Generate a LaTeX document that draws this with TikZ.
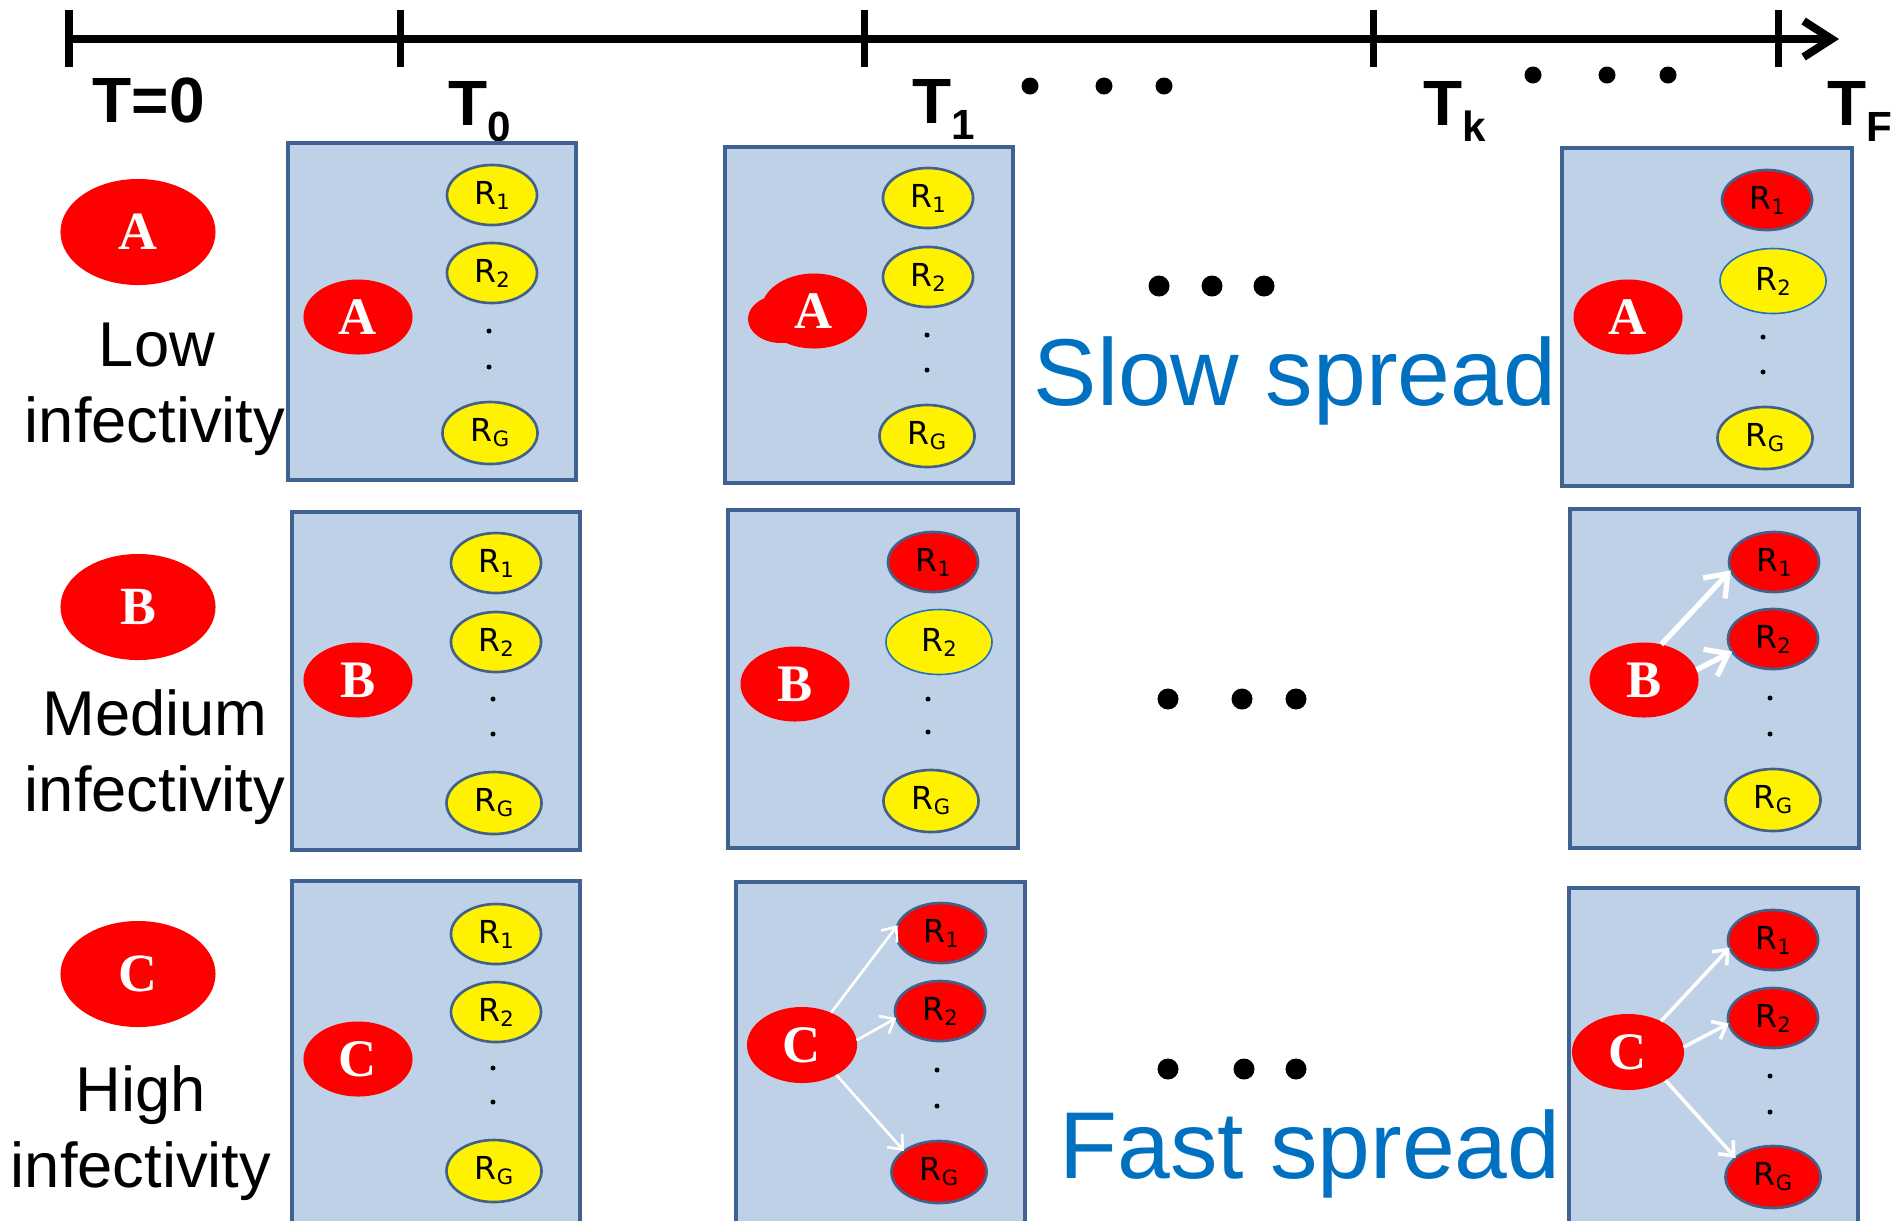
\documentclass[tikz,border=0pt]{standalone}
\usepackage{fontspec}
\setmainfont{Liberation Sans}
\newfontfamily\serfont{Liberation Serif}
\newfontfamily\djv{DejaVu Sans}
\usetikzlibrary{shapes.geometric,arrows.meta}
\definecolor{boxfill}{HTML}{BFD1E6}
\definecolor{boxline}{HTML}{3F6293}
\definecolor{rline}{HTML}{41618C}
\definecolor{specline}{HTML}{1F72C0}
\definecolor{spreadblue}{HTML}{0070C0}
\newcommand\Rlab[1]{R\raisebox{-0.05cm}{\fontsize{6}{7}\selectfont #1}}
\newcommand\Tlab[1]{T\raisebox{-0.16cm}{\fontsize{12}{14}\selectfont #1}}
\tikzset{
  panel/.style={draw=boxline, fill=boxfill, line width=0.9pt},
  agent/.style={ellipse, fill=red, text=white, inner sep=0pt, outer sep=0pt,
    minimum width=1.09cm, minimum height=0.75cm,
    font=\serfont\bfseries\fontsize{15}{18}\selectfont},
  bigagent/.style={agent, minimum width=1.55cm, minimum height=1.06cm,
    font=\serfont\bfseries\fontsize{15.3}{18}\selectfont},
  rnode/.style={ellipse, draw=rline, line width=0.75pt, inner sep=0pt, outer sep=0pt,
    minimum width=0.9cm, minimum height=0.6cm, font=\djv\fontsize{9}{10}\selectfont},
  ryel/.style={rnode, fill=yellow},
  rred/.style={rnode, fill=red},
  rgsize/.style={minimum width=0.95cm, minimum height=0.62cm},
  rspec/.style={rnode, fill=yellow, draw=specline, line width=0.45pt,
    minimum width=1.06cm, minimum height=0.65cm},
  tinydot/.style={circle, fill=black, inner sep=0pt, minimum size=0.05cm},
  bigdot/.style={circle, fill=black, inner sep=0pt, minimum size=0.21cm},
  tldot/.style={circle, fill=black, inner sep=0pt, minimum size=0.17cm},
  tlabel/.style={anchor=base west, inner sep=0pt, font=\bfseries\fontsize{18.2}{20}\selectfont},
  sidelabel/.style={anchor=base, inner sep=0pt, font=\fontsize{18}{20}\selectfont},
  spreadlabel/.style={anchor=base, inner sep=0pt, text=spreadblue, font=\fontsize{27}{30}\selectfont},
  warrow/.style={draw=white, line width=0.75pt, -{Straight Barb[length=0.12cm,width=0.2cm]}},
  wthick/.style={draw=white, line width=1.5pt, -{Straight Barb[length=0.2cm,width=0.3cm]}},
  tick/.style={line width=0.07cm}
}
\begin{document}
\begin{tikzpicture}[x=0.01cm,y=-0.01cm]
\useasboundingbox (0,0) rectangle (1895,1220);
\clip (0,0) rectangle (1895,1220);

% ---------- timeline ----------
\coordinate (tl0) at (69,39);
\coordinate (tlend) at (1839,39);
\draw[line width=0.08cm, -{Straight Barb[length=0.28cm,width=0.36cm]}] (tl0) -- (tlend);
\foreach \x/\n in {69/ta,400/tb,864/tc,1373/td,1778/te}{
  \coordinate (\n1) at (\x,10);
  \coordinate (\n2) at (\x,67);
  \draw[tick] (\n1) -- (\n2);
}
\node[tlabel] (lT0) at (92,122) {T=0};
\node[tlabel] (lTa) at (448,125) {\Tlab{0}};
\node[tlabel] (lTb) at (912,123) {\Tlab{1}};
\node[tlabel] (lTc) at (1423,125) {\Tlab{k}};
\node[tlabel] (lTd) at (1827,125) {\Tlab{F}};
\node[tldot] (tdA1) at (1030,86) {};
\node[tldot] (tdA2) at (1104,86) {};
\node[tldot] (tdA3) at (1164,86) {};
\node[tldot] (tdB1) at (1533,75) {};
\node[tldot] (tdB2) at (1607,75) {};
\node[tldot] (tdB3) at (1668,75) {};

% ---------- left column ----------
\node[bigagent] (la) at (138,232) {A};
\node[sidelabel] (lowa) at (157,366) {Low};
\node[sidelabel] (lowb) at (155,442) {infectivity};
\node[bigagent] (lb) at (138,607) {B};
\node[sidelabel] (meda) at (155,735) {Medium};
\node[sidelabel] (medb) at (155,811) {infectivity};
\node[bigagent] (lc) at (138,974) {C};
\node[sidelabel] (higa) at (141,1111) {High};
\node[sidelabel] (higb) at (141,1187) {infectivity};

% ---------- panels ----------
\draw[panel] (288,143) rectangle (576,480);
\draw[panel] (725,147) rectangle (1013,483);
\draw[panel] (1562,148) rectangle (1852,486);
\draw[panel] (292,512) rectangle (580,850);
\draw[panel] (728,510) rectangle (1018,848);
\draw[panel] (1570,509) rectangle (1859,848);
\draw[panel] (292,881) rectangle (580,1240);
\draw[panel] (736,882) rectangle (1025,1240);
\draw[panel] (1569,888) rectangle (1858,1240);

% ---------- row 1 ----------
\node[agent] (ag11) at (358,317) {A};
\node[ryel] (ra11) at (492,195) {\Rlab{1}};
\node[ryel] (rb11) at (492,273) {\Rlab{2}};
\node[tinydot] (d11a) at (489,331) {};
\node[tinydot] (d11b) at (489,367) {};
\node[ryel,rgsize] (rg11) at (490,433) {\Rlab{G}};

\fill[red] (781,319) ellipse [x radius=0.33cm, y radius=0.24cm];
\node[agent, minimum width=1.06cm] (ag12) at (814,311) {A};
\node[ryel] (ra12) at (928,198) {\Rlab{1}};
\node[ryel] (rb12) at (928,277) {\Rlab{2}};
\node[tinydot] (d12a) at (927,335) {};
\node[tinydot] (d12b) at (927,370) {};
\node[ryel,rgsize] (rg12) at (927,436) {\Rlab{G}};

\node[agent] (ag13) at (1628,317) {A};
\node[rred] (ra13) at (1767,200) {\Rlab{1}};
\node[rspec] (rb13) at (1773,281) {\Rlab{2}};
\node[tinydot] (d13a) at (1763,337) {};
\node[tinydot] (d13b) at (1763,372) {};
\node[ryel,rgsize] (rg13) at (1765,438) {\Rlab{G}};

\node[bigdot] (m1a) at (1159,286) {};
\node[bigdot] (m1b) at (1212,286) {};
\node[bigdot] (m1c) at (1264,286) {};
\node[spreadlabel] (slow) at (1295,405) {Slow spread};

% ---------- row 2 ----------
\node[agent] (ag21) at (358,680) {B};
\node[ryel] (ra21) at (496,563) {\Rlab{1}};
\node[ryel] (rb21) at (496,642) {\Rlab{2}};
\node[tinydot] (d21a) at (493,699) {};
\node[tinydot] (d21b) at (493,734) {};
\node[ryel,rgsize] (rg21) at (494,803) {\Rlab{G}};

\node[agent] (ag22) at (795,684) {B};
\node[rred] (ra22) at (933,562) {\Rlab{1}};
\node[rspec] (rb22) at (939,642) {\Rlab{2}};
\node[tinydot] (d22a) at (928,699) {};
\node[tinydot] (d22b) at (928,732) {};
\node[ryel,rgsize] (rg22) at (931,801) {\Rlab{G}};

\node[agent] (ag23) at (1644,680) {B};
\node[rred] (ra23) at (1774,562) {\Rlab{1}};
\node[rred] (rb23) at (1773,639) {\Rlab{2}};
\node[tinydot] (d23a) at (1770,698) {};
\node[tinydot] (d23b) at (1770,734) {};
\node[ryel,rgsize] (rg23) at (1773,800) {\Rlab{G}};
\draw[wthick] (ag23.64) -- (ra23.191);
\draw[wthick] (ag23.11) -- (rb23.197);

\node[bigdot] (m2a) at (1168,699) {};
\node[bigdot] (m2b) at (1242,699) {};
\node[bigdot] (m2c) at (1296,699) {};

% ---------- row 3 ----------
\node[agent] (ag31) at (358,1059) {C};
\node[ryel] (ra31) at (496,934) {\Rlab{1}};
\node[ryel] (rb31) at (496,1012) {\Rlab{2}};
\node[tinydot] (d31a) at (493,1068) {};
\node[tinydot] (d31b) at (493,1102) {};
\node[ryel,rgsize] (rg31) at (494,1171) {\Rlab{G}};

\node[agent, minimum width=1.1cm, minimum height=0.76cm] (ag32) at (802,1045) {C};
\node[rred] (ra32) at (941,933) {\Rlab{1}};
\node[rred] (rb32) at (940,1011) {\Rlab{2}};
\node[tinydot] (d32a) at (937,1070) {};
\node[tinydot] (d32b) at (937,1106) {};
\node[rred,rgsize] (rg32) at (939,1172) {\Rlab{G}};
\draw[warrow] (ag32.48) -- (ra32.170);
\draw[warrow] (ag32.5) -- (rb32.189);
\draw[warrow] (ag32.319) -- (rg32.149);

\node[agent, minimum width=1.12cm, minimum height=0.76cm] (ag33) at (1628,1052) {C};
\node[rred] (ra33) at (1773,940) {\Rlab{1}};
\node[rred] (rb33) at (1773,1018) {\Rlab{2}};
\node[tinydot] (d33a) at (1770,1076) {};
\node[tinydot] (d33b) at (1770,1112) {};
\node[rred,rgsize] (rg33) at (1773,1177) {\Rlab{G}};
\draw[warrow, line width=1pt] (ag33.43) -- (ra33.190);
\draw[warrow, line width=1pt] (ag33.5) -- (rb33.187);
\draw[warrow, line width=1pt] (ag33.323) -- (rg33.153);

\node[bigdot] (m3a) at (1168,1069) {};
\node[bigdot] (m3b) at (1244,1069) {};
\node[bigdot] (m3c) at (1296,1069) {};
\node[spreadlabel] (fast) at (1310,1178) {Fast spread};
\end{tikzpicture}
\end{document}
